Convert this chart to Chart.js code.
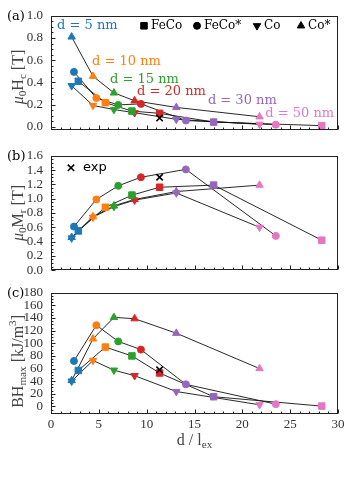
<!DOCTYPE html>
<html>
<head>
<meta charset="utf-8">
<script src="https://cdn.jsdelivr.net/npm/chart.js@4.4.0/dist/chart.umd.min.js"></script>
<style>
body { margin: 0; background: #fff; }
#wrap { position: relative; width: 350px; height: 480px; overflow: hidden; background: #fff; }
canvas { position: absolute; left: 0; }
</style>
</head>
<body>
<div id="wrap">
  <canvas id="ca" width="350" height="146" style="top:0px"></canvas>
  <canvas id="cb" width="350" height="146" style="top:140px"></canvas>
  <canvas id="cc" width="350" height="203" style="top:277px"></canvas>
</div>
<script>
// colour per particle size, marker per material
var colors = ['#1f77b4', '#ff7f0e', '#2ca02c', '#d62728', '#9467bd', '#e377c2'];
var sizeLabels = ['d = 5 nm', 'd = 10 nm', 'd = 15 nm', 'd = 20 nm', 'd = 30 nm', 'd = 50 nm'];
var materials = ['FeCo', 'FeCo*', 'Co', 'Co*'];

// d / l_ex for each material
var xFeCo = [2.86, 5.68, 8.46, 11.35, 17.0, 28.3];
var xFeCoS = [2.40, 4.74, 7.03, 9.40, 14.1, 23.5];
var xCo = [2.16, 4.39, 6.58, 8.74, 13.1, 21.8];
var xExp = [11.35];

// (a) mu0 Hc [T]
var hcFeCo = [0.41, 0.218, 0.142, 0.122, 0.043, 0.011];
var hcFeCoS = [0.495, 0.26, 0.198, 0.207, 0.057, 0.02];
var hcCo = [0.37, 0.193, 0.156, 0.127, 0.068, 0.023];
var hcCoS = [0.81, 0.456, 0.306, 0.235, 0.175, 0.091];
var hcExp = [0.079];

// (b) mu0 Mr [T]
var mrFeCo = [0.55, 0.88, 1.05, 1.16, 1.19, 0.42];
var mrFeCoS = [0.61, 0.99, 1.18, 1.30, 1.41, 0.48];
var mrCo = [0.45, 0.74, 0.89, 0.98, 1.08, 0.60];
var mrCoS = [0.46, 0.75, 0.90, 0.99, 1.10, 1.19];
var mrExp = [1.30];

// (c) BHmax [kJ/m3]
var bhFeCo = [57, 94, 80, 53, 15.4, 0.5];
var bhFeCoS = [72, 128.7, 103, 90, 35, 3.6];
var bhCo = [40, 72.8, 57.4, 48.7, 23.6, 2.6];
var bhCoS = [41, 107, 141, 139, 116, 60];
var bhExp = [58];

var xTicks = [0, 5, 10, 15, 20, 25, 30];
var hcTicks = [0, 0.2, 0.4, 0.6, 0.8, 1.0];
var mrTicks = [0, 0.2, 0.4, 0.6, 0.8, 1.0, 1.2, 1.4, 1.6];
var bhTicks = [0, 20, 40, 60, 80, 100, 120, 140, 160, 180];

var serif = 'Liberation Serif';
var dvSerif = 'DejaVu Serif';

var styles = [
  { style: 'rect', r: 4.6, rot: 0 },
  { style: 'circle', r: 3.5, rot: 0 },
  { style: 'triangle', r: 4.3, rot: 180 },
  { style: 'triangle', r: 4.3, rot: 0 }
];

// draw text with sub/superscripts: parts = [[text, kind, italic]]
function richText(ctx, parts, x, y, size, family, color, rotate) {
  ctx.save();
  ctx.fillStyle = color;
  ctx.textBaseline = 'middle';
  ctx.textAlign = 'left';
  var total = 0;
  parts.forEach(function(p) {
    var fs = p[1] ? size * 0.7 : size;
    ctx.font = (p[2] ? 'italic ' : '') + fs + 'px "' + family + '"';
    p.w = ctx.measureText(p[0]).width;
    total += p.w;
  });
  ctx.translate(x, y);
  if (rotate) ctx.rotate(-Math.PI / 2);
  var cx = -total / 2;
  parts.forEach(function(p) {
    var fs = p[1] ? size * 0.7 : size;
    ctx.font = (p[2] ? 'italic ' : '') + fs + 'px "' + family + '"';
    var dy = p[1] === 1 ? size * 0.28 : (p[1] === 2 ? -size * 0.35 : 0);
    ctx.fillText(p[0], cx, dy);
    cx += p.w;
  });
  ctx.restore();
}

var framePlugin = {
  id: 'frame',
  afterDraw: function(chart, args, o) {
    var ctx = chart.ctx, a = chart.chartArea;
    var xs = chart.scales.x, ys = chart.scales.y;
    var l = Math.round(a.left) + 0.5, r = Math.round(a.right) - 0.5;
    var t = Math.round(a.top) + 0.5, b = Math.round(a.bottom) - 0.5;
    ctx.save();
    ctx.strokeStyle = '#222';
    ctx.lineWidth = 1;
    ctx.beginPath();
    // x ticks, major every 5, minor every 1
    for (var v = 0; v <= 30; v += 1) {
      var px = Math.round(xs.getPixelForValue(v)) + 0.5;
      var len = v % 5 === 0 ? 4 : 2;
      ctx.moveTo(px, b);
      ctx.lineTo(px, b - len);
    }
    // y ticks
    var n = Math.round((o.yMax - o.yMin) / o.minor);
    for (var i = 0; i <= n; i++) {
      var yv = o.yMin + i * o.minor;
      if (yv < ys.min || yv > ys.max + 1e-9) continue;
      var py = Math.round(ys.getPixelForValue(yv)) + 0.5;
      var isMajor = Math.abs(yv / o.major - Math.round(yv / o.major)) < 1e-6;
      ctx.moveTo(l, py);
      ctx.lineTo(l + (isMajor ? 4 : 2), py);
    }
    ctx.stroke();
    ctx.strokeRect(l, t, r - l, b - t);
    ctx.restore();

    // panel letter
    ctx.save();
    ctx.fillStyle = '#000';
    ctx.font = '13px "' + dvSerif + '"';
    ctx.textBaseline = 'middle';
    ctx.textAlign = 'left';
    ctx.fillText(o.letter, 7, a.top + 1);
    ctx.restore();

    // y title
    richText(ctx, o.yTitle, 19, (a.top + a.bottom) / 2 + o.titleShift, 16, serif, '#444', true);

    if (o.xTitle) {
      richText(ctx, o.xTitle, (a.left + a.right) / 2, a.bottom + 27, 16, serif, '#444', false);
    }

    // size annotations, placed in data coordinates
    if (o.notes) {
      ctx.save();
      ctx.font = '13px "' + dvSerif + '"';
      ctx.textBaseline = 'middle';
      ctx.textAlign = 'left';
      o.notes.forEach(function(nt, k) {
        ctx.fillStyle = colors[k];
        ctx.fillText(sizeLabels[k], xs.getPixelForValue(nt[0]), ys.getPixelForValue(nt[1]));
      });
      ctx.restore();
    }

    // marker legend
    if (o.legend) {
      ctx.save();
      ctx.font = '12px "' + dvSerif + '"';
      ctx.textBaseline = 'middle';
      ctx.textAlign = 'left';
      o.legend.forEach(function(lg, k) {
        var st = styles[k];
        var mx = a.left + lg, my = a.top + 10;
        ctx.fillStyle = '#000';
        ctx.strokeStyle = '#000';
        Chart.helpers.drawPoint(ctx, { pointStyle: st.style, rotation: st.rot, radius: st.r, borderWidth: 1 }, mx, my);
        ctx.fillStyle = '#000';
        ctx.fillText(materials[k], mx + 7, my);
      });
      ctx.restore();
    }

    if (o.expLegend) {
      ctx.save();
      ctx.strokeStyle = '#000';
      ctx.lineWidth = 1.6;
      var ex = a.left + 20, ey = a.top + 12;
      Chart.helpers.drawPoint(ctx, { pointStyle: 'crossRot', rotation: 0, radius: 4.5, borderWidth: 1.6 }, ex, ey);
      ctx.fillStyle = '#000';
      ctx.font = '13px "DejaVu Sans"';
      ctx.textBaseline = 'middle';
      ctx.fillText('exp', ex + 12, ey);
      ctx.restore();
    }
  }
};

function pts(xs, ys) {
  return xs.map(function(v, i) { return { x: v, y: ys[i] }; });
}

function makePanel(id, series, exp, yCfg, extra) {
  var xsets = [xFeCo, xFeCoS, xCo, xCo];
  var datasets = [];
  series.forEach(function(ys, k) {
    datasets.push({
      data: pts(xsets[k], ys),
      showLine: true,
      borderColor: '#111',
      borderWidth: 0.9,
      pointRadius: 0,
      order: 3
    });
  });
  series.forEach(function(ys, k) {
    var st = styles[k];
    datasets.push({
      data: pts(xsets[k], ys),
      showLine: false,
      pointStyle: st.style,
      pointRotation: st.rot,
      pointRadius: st.r,
      pointBackgroundColor: colors,
      pointBorderColor: colors,
      pointBorderWidth: 1,
      order: 2
    });
  });
  datasets.push({
    data: pts(xExp, exp),
    showLine: false,
    pointStyle: 'crossRot',
    pointRadius: 4.5,
    pointBorderColor: '#000',
    pointBorderWidth: 1.6,
    order: 1
  });

  var plugOpts = Object.assign({
    yMin: yCfg.minorStart, yMax: yCfg.max, minor: yCfg.minor, major: yCfg.major,
    letter: yCfg.letter, yTitle: yCfg.title, titleShift: yCfg.titleShift || 0
  }, extra || {});

  return new Chart(document.getElementById(id).getContext('2d'), {
    type: 'scatter',
    data: { datasets: datasets },
    options: {
      responsive: false,
      animation: false,
      devicePixelRatio: 1,
      events: [],
      layout: { padding: { top: 12, right: 12, left: 0, bottom: 0 } },
      plugins: { legend: { display: false }, tooltip: { enabled: false }, frame: plugOpts },
      scales: {
        x: {
          type: 'linear', min: 0, max: 30,
          afterBuildTicks: function(s) { s.ticks = xTicks.map(function(v) { return { value: v }; }); },
          grid: { display: false, drawTicks: false },
          border: { display: false },
          ticks: { display: yCfg.showX, autoSkip: false, maxRotation: 0, padding: 3, color: '#333', font: { family: serif, size: 13 } },
          afterFit: function(s) { s.height = yCfg.xh; }
        },
        y: {
          type: 'linear', min: yCfg.min, max: yCfg.max,
          afterBuildTicks: function(s) { s.ticks = yCfg.ticks.map(function(v) { return { value: v }; }); },
          grid: { display: false, drawTicks: false },
          border: { display: false },
          ticks: {
            autoSkip: false, padding: 8, color: '#333', font: { family: serif, size: 13 },
            callback: function(v) { return yCfg.dec ? v.toFixed(yCfg.dec) : String(v); }
          },
          afterFit: function(s) { s.width = 51; }
        }
      }
    },
    plugins: [framePlugin]
  });
}

makePanel('ca', [hcFeCo, hcFeCoS, hcCo, hcCoS], hcExp,
  { min: -0.03, max: 1.0, ticks: hcTicks, dec: 1, major: 0.2, minor: 0.05, minorStart: 0, showX: false, xh: 12,
    letter: '(a)', titleShift: 4, title: [['μ', 0, true], ['0', 1], ['H', 0], ['c', 1], [' [T]', 0]] },
  { notes: [[0.63, 0.912], [4.29, 0.589], [6.17, 0.425], [8.99, 0.32], [16.4, 0.238], [22.4, 0.121]],
    legend: [93, 146, 206, 250] });

makePanel('cb', [mrFeCo, mrFeCoS, mrCo, mrCoS], mrExp,
  { min: 0, max: 1.6, ticks: mrTicks, dec: 1, major: 0.2, minor: 0.05, minorStart: 0, showX: false, xh: 12,
    letter: '(b)', title: [['μ', 0, true], ['0', 1], ['M', 0], ['r', 1], [' [T]', 0]] },
  { expLegend: true });

makePanel('cc', [bhFeCo, bhFeCoS, bhCo, bhCoS], bhExp,
  { min: -12, max: 180, ticks: bhTicks, dec: 0, major: 20, minor: 5, minorStart: -10, showX: true, xh: 66,
    letter: '(c)', titleShift: 8, title: [['BH', 0], ['max', 1], [' [kJ/m', 0], ['3', 2], [']', 0]] },
  { xTitle: [['d / l', 0], ['ex', 1]] });
</script>
</body>
</html>
